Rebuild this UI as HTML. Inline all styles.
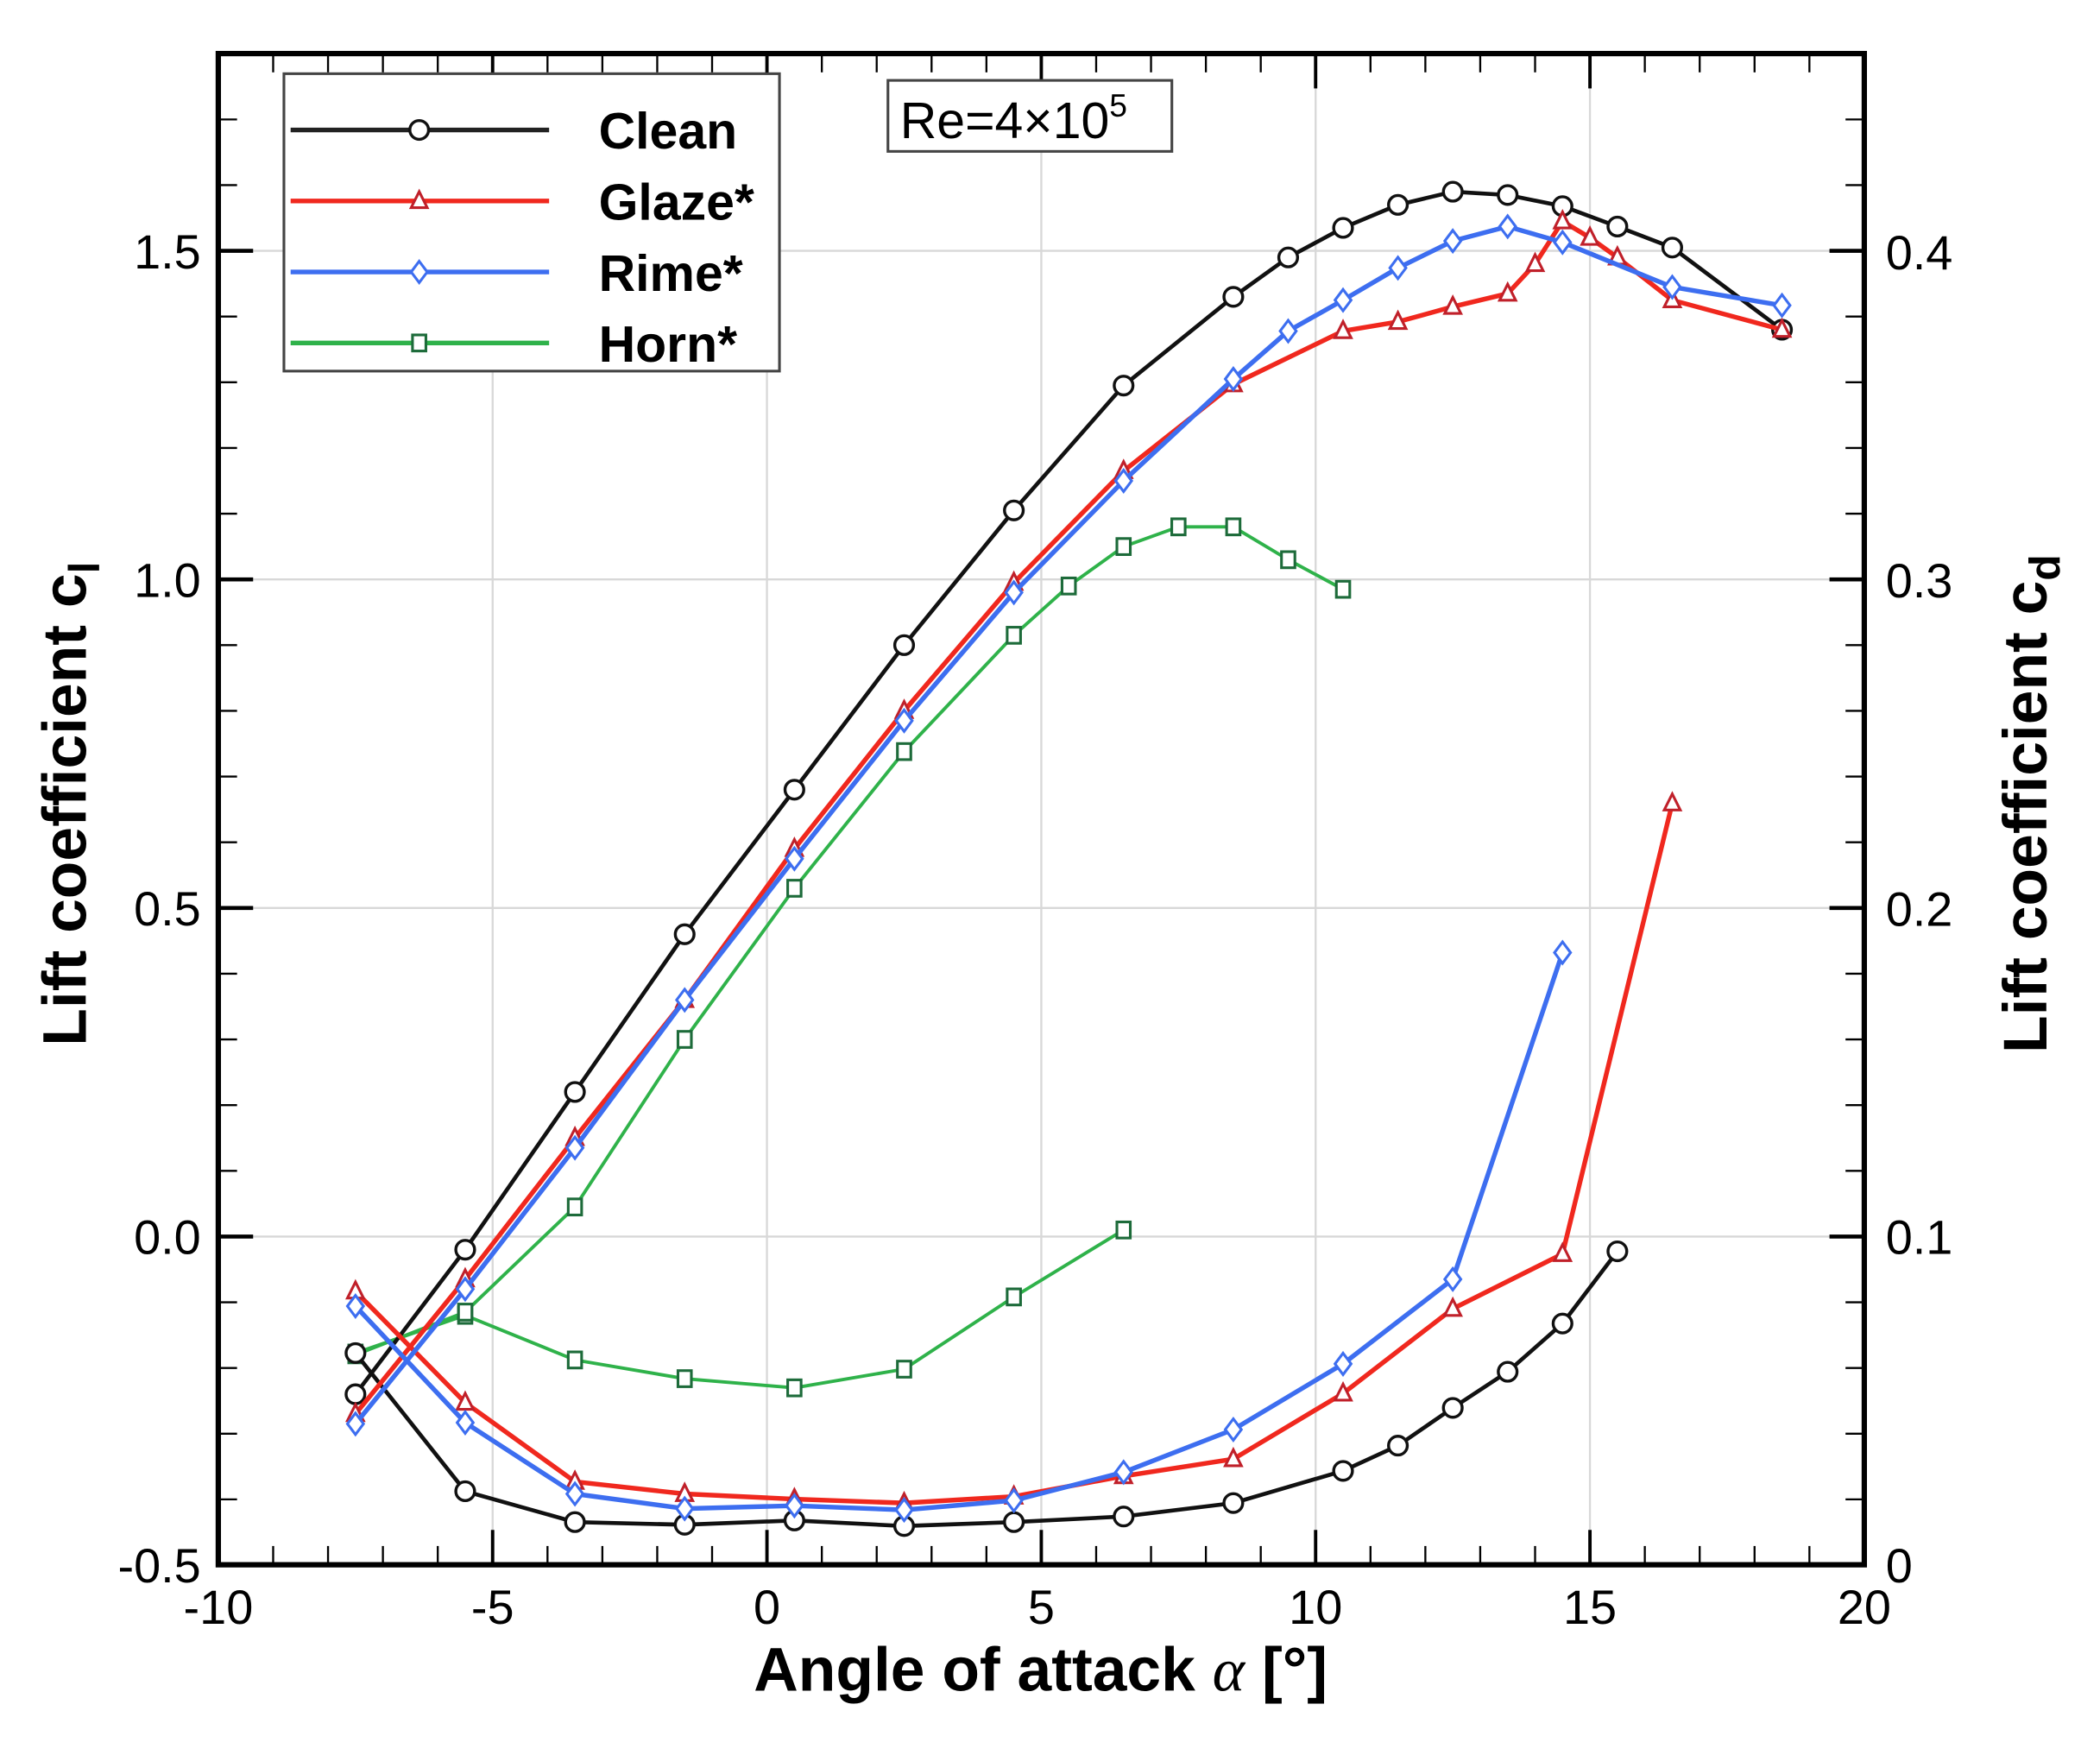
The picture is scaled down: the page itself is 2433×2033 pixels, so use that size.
<!DOCTYPE html>
<html><head><meta charset="utf-8"><style>
html,body{margin:0;padding:0;background:#fff}
svg{display:block;font-family:"Liberation Sans",Arial,sans-serif}
</style></head><body>
<svg id="chart" width="2433" height="2033" viewBox="0 0 1568 1310" preserveAspectRatio="none" xmlns="http://www.w3.org/2000/svg">
<g id="grid"></g>
<g id="series"></g>
<g id="axes"></g>
<text x="777" y="1262" text-anchor="middle" font-size="46" font-weight="bold">Angle of attack <tspan font-weight="normal" font-family="Liberation Serif,serif" font-style="italic">α</tspan> [°]</text>
<text transform="translate(64,600) rotate(-90)" text-anchor="middle" font-size="46" font-weight="bold">Lift coefficient c<tspan font-size="32" dy="10">l</tspan></text>
<text transform="translate(1528,600) rotate(-90)" text-anchor="middle" font-size="46" font-weight="bold">Lift coefficient c<tspan font-size="32" dy="10">d</tspan></text>
<g id="legend">
<rect x="212" y="55" width="370" height="222" fill="#fff" stroke="#444" stroke-width="2"/>
</g>
<g>
<rect x="663" y="60" width="212" height="53" fill="#fff" stroke="#444" stroke-width="2"/>
<text x="672" y="103" font-size="38">Re=4×10<tspan font-size="24" dy="-16">5</tspan></text>
</g>
</svg>
<script>
const alphaTicks=[-10,-5,0,5,10,15,20];
const clTicks=[-0.5,0.0,0.5,1.0,1.5];
const clTickLabels=["-0.5","0.0","0.5","1.0","1.5"];
const cdTicks=[0,0.1,0.2,0.3,0.4];
const cdTickLabels=["0","0.1","0.2","0.3","0.4"];
const seriesNames=["Clean","Glaze*","Rime*","Horn*"];
const cleanClA=[-7.5,-5.5,-3.5,-1.5,0.5,2.5,4.5,6.5,8.5,9.5,10.5,11.5,12.5,13.5,14.5,15.5,16.5,18.5];
const cleanCl=[-0.24,-0.02,0.22,0.46,0.68,0.90,1.105,1.295,1.43,1.49,1.535,1.57,1.59,1.585,1.568,1.537,1.505,1.38];
const glazeClA=[-7.5,-5.5,-3.5,-1.5,0.5,2.5,4.5,6.5,8.5,10.5,11.5,12.5,13.5,14,14.5,15,15.5,16.5,18.5];
const glazeCl=[-0.27,-0.065,0.15,0.36,0.59,0.80,0.995,1.165,1.297,1.378,1.392,1.415,1.435,1.48,1.545,1.52,1.49,1.425,1.38];
const rimeClA=[-7.5,-5.5,-3.5,-1.5,0.5,2.5,4.5,6.5,8.5,9.5,10.5,11.5,12.5,13.5,14.5,16.5,18.5];
const rimeCl=[-0.285,-0.08,0.135,0.36,0.575,0.785,0.98,1.15,1.305,1.378,1.425,1.474,1.515,1.537,1.513,1.445,1.417];
const hornClA=[-7.5,-5.5,-3.5,-1.5,0.5,2.5,4.5,5.5,6.5,7.5,8.5,9.5,10.5];
const hornCl=[-0.18,-0.115,0.045,0.30,0.53,0.738,0.915,0.99,1.05,1.08,1.08,1.03,0.985];
const cleanCdA=[-7.5,-5.5,-3.5,-1.5,0.5,2.5,4.5,6.5,8.5,10.5,11.5,12.5,13.5,14.5,15.5];
const cleanCd=[0.0645,0.0224,0.013,0.0122,0.0135,0.0118,0.013,0.0147,0.0188,0.0286,0.0363,0.0478,0.0588,0.0735,0.0955];
const glazeCdA=[-7.5,-5.5,-3.5,-1.5,0.5,2.5,4.5,6.5,8.5,10.5,12.5,14.5,16.5];
const glazeCd=[0.0833,0.0494,0.0253,0.0216,0.02,0.0188,0.0208,0.027,0.0322,0.0522,0.078,0.0947,0.232];
const rimeCdA=[-7.5,-5.5,-3.5,-1.5,0.5,2.5,4.5,6.5,8.5,10.5,12.5,14.5];
const rimeCd=[0.0788,0.0433,0.0216,0.0171,0.018,0.0167,0.0196,0.0282,0.0412,0.0612,0.087,0.1865];
const hornCdA=[-7.5,-5.5,-3.5,-1.5,0.5,2.5,4.5,6.5];
const hornCd=[0.0645,0.076,0.0624,0.0567,0.0539,0.0596,0.0816,0.102];

const NS="http://www.w3.org/2000/svg";
const L=163,R=1392,T=40,B=1168;
function xS(a){return L+(a+10)/30*(R-L);}
function yCl(v){return 923-v*490.5;}
function yCd(v){return B-v*2450;}
function mk(tag,attrs,parent){const e=document.createElementNS(NS,tag);for(const k in attrs)e.setAttribute(k,attrs[k]);parent.appendChild(e);return e;}
const grid=document.getElementById('grid'),axes=document.getElementById('axes'),ser=document.getElementById('series');
alphaTicks.forEach(a=>{if(a>-10&&a<20){const g=mk('line',{x1:xS(a),x2:xS(a),y1:T,y2:B,stroke:'#d8d8d8','stroke-width':1.5},grid);

}});
clTicks.forEach(v=>{if(v>-0.5){const g=mk('line',{x1:L,x2:R,y1:yCl(v),y2:yCl(v),stroke:'#d8d8d8','stroke-width':1.5},grid);

}});
const fr=mk('rect',{x:L,y:T,width:R-L,height:B-T,fill:'none',stroke:'#000','stroke-width':4},axes);


for(let a=-10;a<=20;a++){const maj=a%5===0;const h=maj?26:14;
mk('line',{x1:xS(a),x2:xS(a),y1:B,y2:B-h,stroke:'#000','stroke-width':maj?2.5:1.5},axes);
mk('line',{x1:xS(a),x2:xS(a),y1:T,y2:T+h,stroke:'#000','stroke-width':maj?2.5:1.5},axes);}
alphaTicks.forEach(a=>{const t=mk('text',{x:xS(a),y:1212,'text-anchor':'middle','font-size':36},axes);t.textContent=String(a);

});
for(let i=0;i<=22;i++){const v=-0.5+i*0.1;const y=yCl(v);if(y<T)break;const maj=i%5===0;const h=maj?26:14;
mk('line',{x1:L,x2:L+h,y1:y,y2:y,stroke:'#000','stroke-width':maj?3:1.5},axes);
mk('line',{x1:R,x2:R-h,y1:y,y2:y,stroke:'#000','stroke-width':maj?3:1.5},axes);}
clTicks.forEach((v,i)=>{const t=mk('text',{x:150,y:yCl(v)+13,'text-anchor':'end','font-size':36},axes);t.textContent=clTickLabels[i];

});
cdTicks.forEach((v,i)=>{const t=mk('text',{x:1408,y:yCd(v)+13,'text-anchor':'start','font-size':36},axes);t.textContent=cdTickLabels[i];

});
function marker(kind,x,y,col,p){
 if(kind==='circle')return mk('circle',{cx:x,cy:y,r:7,fill:'#fff',stroke:col,'stroke-width':2.2},p);
 if(kind==='tri')return mk('polygon',{points:`${x},${y-7} ${x+6},${y+5} ${x-6},${y+5}`,fill:'#fff',stroke:col,'stroke-width':2},p);
 if(kind==='diamond')return mk('polygon',{points:`${x},${y-8} ${x+6},${y} ${x},${y+8} ${x-6},${y}`,fill:'#fff',stroke:col,'stroke-width':2},p);
 return mk('rect',{x:x-5,y:y-6,width:10,height:12,fill:'#fff',stroke:col,'stroke-width':2},p);}
function drawSeries(name,A,V,ys,col,mcol,kind,w){
 const g=mk('g',{},ser);
 
 
 const pts=A.map((a,i)=>xS(a)+','+ys(V[i])).join(' ');
 const pl=mk('polyline',{points:pts,fill:'none',stroke:col,'stroke-width':w,'stroke-linejoin':'round'},g);
 
 
 A.forEach((a,i)=>{const m=marker(kind,xS(a),ys(V[i]),mcol,g);
 
 });}
drawSeries('horn-cd',hornCdA,hornCd,yCd,'#2fb24a','#1d6b3a','square',2.5);
drawSeries('horn-cl',hornClA,hornCl,yCl,'#2fb24a','#1d6b3a','square',2.5);
drawSeries('clean-cd',cleanCdA,cleanCd,yCd,'#111','#111','circle',3);
drawSeries('clean-cl',cleanClA,cleanCl,yCl,'#111','#111','circle',3);
drawSeries('glaze-cd',glazeCdA,glazeCd,yCd,'#f0281e','#c0202a','tri',3.5);
drawSeries('glaze-cl',glazeClA,glazeCl,yCl,'#f0281e','#c0202a','tri',3.5);
drawSeries('rime-cd',rimeCdA,rimeCd,yCd,'#3d6ef0','#3d6ef0','diamond',3.5);
drawSeries('rime-cl',rimeClA,rimeCl,yCl,'#3d6ef0','#3d6ef0','diamond',3.5);
const lg=document.getElementById('legend');
const legCols=['#222','#f0281e','#3d6ef0','#2fb24a'],legM=['#111','#c0202a','#3d6ef0','#1d6b3a'],legK=['circle','tri','diamond','square'],legY=[97,150,203,256];
seriesNames.forEach((n,i)=>{
 const e=mk('g',{},lg);
 
 
 mk('line',{x1:217,x2:410,y1:legY[i],y2:legY[i],stroke:legCols[i],'stroke-width':3.5},e);
 marker(legK[i],313,legY[i],legM[i],e);
 const t=mk('text',{x:447,y:legY[i]+14,'font-size':38,'font-weight':'bold'},e);
 t.textContent=n;});
</script>
</body></html>
